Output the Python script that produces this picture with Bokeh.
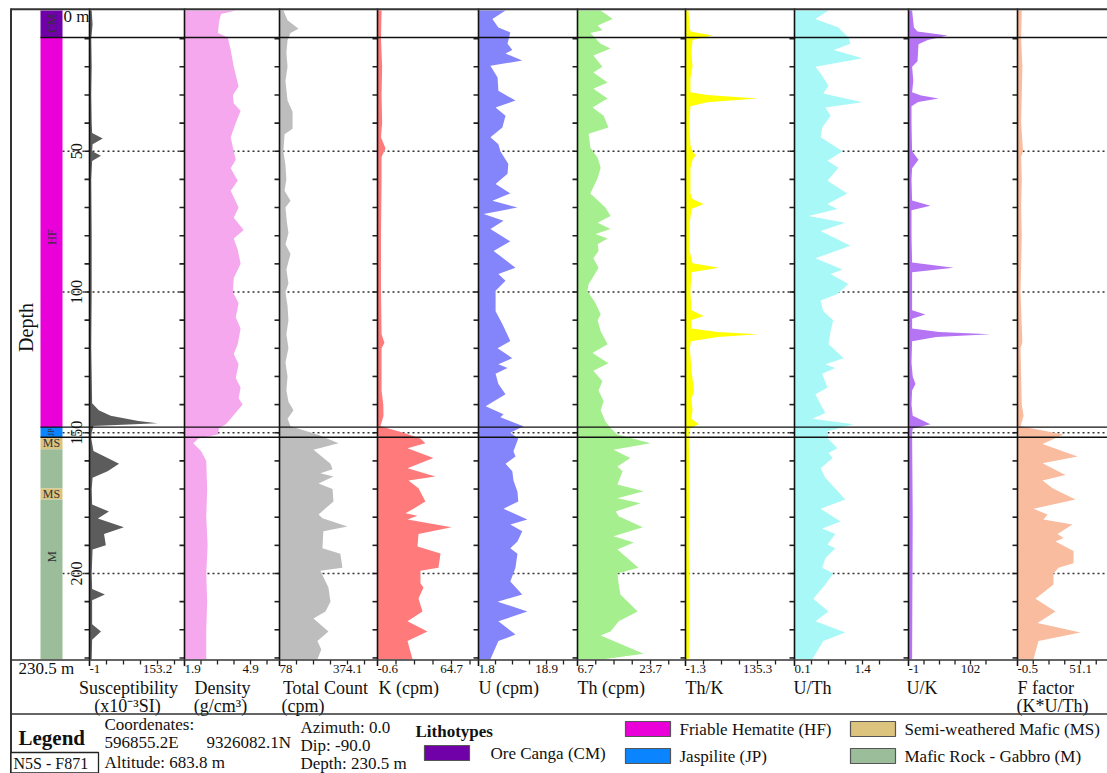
import math
from bokeh.plotting import figure
from bokeh.models import Range1d
from bokeh.embed import file_html
from bokeh.resources import INLINE
from bokeh.core.properties import value

# ---------------- data ----------------
DEPTH_MAX = 230.5

lith_top = [0, 9.6, 148.0, 151.6, 155.9, 169.8, 173.7]
lith_base = [9.6, 148.0, 151.6, 155.9, 169.8, 173.7, 230.5]
lith_code = ["CM", "HF", "JP", "MS", "M", "MS", "M"]
lith_label_code = ["CM", "HF", "JP", "MS", "MS", "M"]
lith_label_depth = [4.6, 80.5, 149.8, 153.8, 171.8, 194.0]
lith_names = ["Ore Canga (CM)", "Friable Hematite (HF)", "Jaspilite (JP)",
              "Semi-weathered Mafic (MS)", "Mafic Rock - Gabbro (M)"]

susc_depth = [0, 5, 10, 20, 30, 40, 43.5, 45.5, 47.5, 50, 51.6, 53.5, 60, 80, 100, 120, 139.5, 142, 144, 145.8,
              146.6, 147.6, 150, 152, 156.5, 159, 161, 163.7, 166, 170, 175.5, 178, 180.5, 183.6, 186, 190, 191.5,
              200, 205.5, 207.5, 209.5, 218, 220.6, 223.5, 230.5]
susc = [4, 6, 3, 4, 3, 4, 5, 29, 6, 5, 25, 5, 3, 4, 4, 3, 5, 20, 47, 110,
        153.2, 8, 4, 3, 8, 40, 66, 40, 6, 4, 5, 43, 18, 77, 32, 36, 6,
        4, 5, 34, 5, 5, 25, 5, 4]

dens_depth = [0, 1.2, 4, 8, 9.6, 14, 20, 27, 30, 33, 35.6, 40, 45, 48.7, 53, 56, 60.5, 64, 70, 73.6,
              78, 81, 85, 90, 95, 100, 104, 109, 113, 118.6, 122, 125.7, 130.5, 134, 137.7, 140, 142, 145, 147,
              148.3, 150.6, 152, 153.7, 156.6, 160, 170, 180, 190, 200, 210, 220, 230.5]
dens = [4.23, 3.56, 3.47, 3.42, 3.87, 4.0, 4.14, 4.36, 4.1, 4.14, 4.45, 4.23, 4.0, 4.1, 4.23, 4.0, 4.32, 4.0,
        4.36, 4.14, 4.59, 4.14, 4.32, 4.45, 4.14, 4.1, 4.36, 4.23, 4.45, 4.32, 4.14, 4.36, 4.23, 4.45, 4.36,
        4.54, 4.32, 4.0, 3.78, 3.47, 3.42, 2.53, 2.3, 2.66, 2.89, 2.93, 2.89, 2.95, 2.89, 2.93, 2.89, 2.89]

tc_depth = [0, 3.5, 6.5, 8, 10.7, 15, 20, 25, 32, 36, 42, 44, 50, 55, 60, 64, 67.6, 70, 75, 79, 83, 86.5, 92,
            97, 100, 105, 110, 115, 120, 125, 130, 135, 139, 142, 145, 147.7, 150.6, 153.7, 156, 161, 163,
            164.4, 165.5, 168, 170, 174.4, 179, 180.4, 183.3, 185, 191, 193, 198, 199, 205, 210, 213.5, 216,
            220.6, 224, 227, 230.5]
tc = [95, 113, 161, 126, 113, 108, 113, 104, 113, 135, 135, 100, 95, 104, 108, 100, 126, 104, 110, 117, 104,
      126, 108, 117, 104, 113, 117, 108, 117, 104, 113, 108, 117, 139, 113, 126, 243, 335, 226, 300, 309, 256,
      313, 248, 309, 313, 248, 265, 374.1, 269, 265, 343, 352, 256, 291, 300, 278, 226, 291, 243, 260, 243]

k_depth = [0, 10, 20, 30, 40, 45, 49, 52, 60, 80, 100, 115, 118, 120, 135, 140, 144, 147.7, 150, 152, 153.7,
           155.5, 159, 162.6, 165.5, 167, 169.7, 174.4, 177, 178.6, 179.5, 180.8, 183.6, 186, 190.4, 192.9, 198,
           199, 203.5, 205, 208.9, 213.5, 217, 220.6, 224, 230.5]
k_cpm = [3, 2.5, 3.5, 3, 3.5, 2.5, 6.5, 3, 3, 2.5, 2.5, 3, 5.5, 3, 3, 4.5, 4.7, 2, 22.3, 37.3, 41.7, 25.9,
         48.8, 25.9, 50.6, 26.7, 35.6, 41.7, 31.2, 24.1, 34.7, 25.9, 64.7, 35.6, 34.7, 55, 53.2, 37.3, 37.3, 40,
         35.6, 39.1, 25.9, 43.5, 25.9, 30.3]

u_depth = [0, 3, 6, 7.8, 11.8, 14, 15.3, 17.8, 19.6, 23.8, 28.5, 32, 34.5, 37.4, 41.6, 45, 47.5, 50, 54.5, 58,
           61.6, 65, 67.6, 70, 72.3, 74.7, 77.6, 82, 85.4, 91.4, 93.6, 96, 99.6, 106.8, 111.4, 117.4, 120, 123.5,
           125.7, 127, 129, 132.7, 136.3, 140.6, 143.4, 144.5, 147.7, 150, 152, 156.6, 158.4, 161, 163.7, 167,
           171, 174.4, 177, 180.8, 182.6, 185, 188.6, 191, 193, 198, 202.8, 207.5, 210, 213.5, 217, 221.7, 224,
           230.5]
u_cpm = [8.6, 5.3, 6.8, 9.8, 9.1, 10.3, 8.6, 12.8, 4.8, 6.6, 6.8, 11.1, 6.1, 8.6, 7.8, 4.8, 6.8, 7.3, 9.3, 9.1,
         6.1, 9.8, 5.3, 11.6, 3.1, 8.1, 4.8, 9.8, 5.6, 11.1, 6.8, 8.6, 6.1, 6.1, 7.8, 9.8, 6.6, 10.3, 6.8, 9.1,
         6.1, 6.8, 8.6, 3.6, 8.1, 7.3, 13.1, 9.8, 11.8, 10.6, 11.1, 8.6, 10.3, 10.6, 11.6, 11.8, 8.1, 14.1, 9.8,
         12.8, 11.6, 9.8, 11.6, 11.1, 9.8, 12.8, 6.6, 14.1, 6.8, 11.1, 6.8, 4.8]

th_depth = [0, 3, 5.3, 7, 8, 11.8, 13.5, 16, 20, 22, 25.6, 27.8, 31.3, 34.5, 37.4, 41.6, 43.8, 48.7, 52.3, 55.9,
            59.5, 65, 70, 73, 75.4, 77.6, 79.4, 81, 83, 85.4, 88, 91.4, 95, 97.2, 99.6, 104, 107.9, 110, 113.9,
            118.6, 121.7, 125.3, 128, 131.7, 135, 138.8, 142, 146, 148.3, 150.6, 153.7, 156, 159, 162, 163.7,
            168.4, 170.8, 173.3, 175, 178, 179.7, 183.6, 186.8, 189, 191.5, 198, 200, 204, 207.5, 213.5, 217,
            220.6, 222, 228.5, 230.5]
th_cpm = [12.1, 14.9, 11.4, 12.5, 9.7, 12.1, 14.4, 10.4, 12.5, 10.4, 13.7, 10.4, 13.7, 10.2, 12.8, 13.9, 9.3,
          9.7, 11.4, 12.1, 11.4, 9.7, 13.2, 14.4, 11.4, 14.4, 10.9, 13.7, 11.4, 11.6, 10.4, 11.6, 10.2, 9.3, 9.0,
          10.9, 12.1, 11.4, 12.1, 13.7, 10.2, 13.9, 10.4, 12.5, 11.6, 12.8, 12.1, 13.2, 14.4, 16.0, 23.7, 15.1,
          19.0, 16.0, 17.2, 16.0, 22.1, 16.0, 21.4, 15.6, 16.3, 21.9, 15.1, 19.8, 16.0, 20.9, 16.0, 16.3, 16.7,
          20.7, 16.3, 14.4, 12.1, 22.1, 12.8]

thk_depth = [0, 5, 7.5, 8.9, 10.5, 15, 20, 24, 29, 30, 31.3, 32.6, 34, 40, 48, 50, 51.5, 53, 56, 65, 67, 68.7,
             70.5, 75, 85, 89.8, 91.4, 93, 100, 106.5, 108.5, 110, 113, 114.2, 115, 116, 117.5, 120, 128, 135,
             138, 142, 145, 147, 148.5, 150, 170, 190, 210, 230.5]
thk = [4.4, 6, 8.2, 50, 12, 10, 12, 8, 8, 40, 135.3, 40, 8, 6, 8, 12, 18, 12, 8, 8, 12, 33, 10, 7, 6, 12, 62,
       10, 8, 10, 33, 9, 10, 60, 135.3, 60, 9, 7, 10, 15, 10, 12, 10, 24, 6, 5, 6, 5, 6, 5]

uth_depth = [0, 3, 6, 9.6, 11.8, 14, 17, 20, 22.4, 26.7, 29.5, 32.6, 34.5, 37.4, 41.6, 45, 50, 53.4, 55.9,
             60.5, 65, 68.7, 70.5, 73, 75.4, 78.3, 83.6, 88, 92, 93.6, 97.2, 100.7, 103, 106.8, 110, 113.9,
             118.5, 123.5, 125.7, 127, 129, 134, 136.3, 140, 143, 145, 147, 149.5, 152.3, 155.5, 157.2, 159,
             162.6, 166, 173.7, 177, 181.5, 184, 186, 189.7, 191, 194.6, 198, 200, 203.9, 209, 213.5, 217, 221,
             224, 230.5]
uth = [0.75, 0.5, 0.94, 1.13, 1.17, 0.85, 1.4, 0.5, 0.6, 0.75, 0.65, 1.4, 0.69, 0.79, 0.63, 0.6, 1.02, 0.73,
       0.94, 0.73, 1.11, 0.73, 0.92, 0.37, 1.07, 0.6, 1.17, 0.5, 1.02, 0.79, 1.13, 0.92, 0.6, 0.65, 0.84, 0.79,
       0.75, 1.04, 0.69, 0.88, 0.63, 0.73, 0.5, 0.6, 0.69, 0.44, 1.23, 0.73, 0.75, 0.92, 0.75, 0.83, 0.6, 0.69,
       1.07, 0.6, 0.98, 0.63, 0.88, 0.73, 0.88, 0.69, 0.63, 0.84, 0.69, 0.46, 0.75, 0.5, 1.07, 0.65, 0.44]

uk_depth = [0, 6, 7.5, 8.9, 10.5, 12, 18, 20, 25, 29, 30.2, 31.3, 32.5, 34, 40, 50, 53, 56, 60, 67.5, 69.4, 71,
            80, 89.5, 91.4, 93, 106.5, 108, 109.5, 113, 114.2, 115, 116, 117.5, 125, 130, 132.7, 135, 140, 144,
            147, 148.5, 150, 180, 230.5]
uk = [5, 8, 14, 64, 31, 15.6, 14, 5, 7, 5, 20, 49, 15, 4, 4, 5, 15.6, 5, 4, 5, 35.5, 4, 4, 5, 74, 5, 5, 27, 5,
      5, 50, 135, 45, 5, 4, 6, 10.6, 5, 4, 6, 35.5, 6, 5, 6, 5]

f_depth = [0, 10, 20, 30, 40, 50, 52, 60, 70, 80, 100, 118, 120, 140, 144, 147.7, 150.6, 154, 158.4, 160.8, 165,
           167, 169.7, 173.7, 177, 179, 180.8, 182.6, 186, 187.4, 188.6, 192, 196.4, 198, 200, 203.9, 209,
           213.5, 217.6, 221, 224, 230.5]
f_factor = [3, 2.5, 3.5, 3, 2.5, 4, 2.5, 3, 2.5, 3, 2, 3.5, 2, 3, 4.5, 2, 37.2, 20, 48.6, 20, 38.8, 20, 28.2,
            47, 12.6, 24.1, 20.8, 44.5, 32.3, 37.2, 30.6, 45.4, 45.4, 33.1, 29, 29, 14.2, 30.6, 15.9, 51.1, 16.7,
            12.6]

track_min = [-1, 1.9, 78, -0.6, 1.8, 6.7, -1.3, 0.1, -1, -0.5]
track_max = [153.2, 4.9, 374.1, 64.7, 18.9, 23.7, 135.3, 1.4, 102, 51.1]
min_labels = ["-1", "1.9", "78", "-0.6", "1.8", "6.7", "-1.3", "0.1", "-1", "-0.5"]
max_labels = ["153.2", "4.9", "374.1", "64.7", "18.9", "23.7", "135.3", "1.4", "102", "51.1"]
title_1 = ["Susceptibility", "Density", "Total Count", "K (cpm)", "U (cpm)", "Th (cpm)", "Th/K", "U/Th", "U/K",
           "F factor"]
title_2 = ["(x10\u207b\u00b3SI)", "(g/cm\u00b3)", "(cpm)", "", "", "", "", "", "", "(K*U/Th)"]
depth_labels = [50, 100, 150, 200]

# ---------------- styling / layout ----------------
track_colors = ["#5c5c5c", "#f5a8ee", "#bdbdbd", "#ff7b7b", "#8585fb", "#a6ef8f", "#ffff00", "#a8f8f8",
                "#b474f4", "#f9bc9f"]
lith_colors = {"CM": "#7000a8", "HF": "#ea00d8", "JP": "#0a84ff", "MS": "#dcc47e", "M": "#9cbd99"}
px0 = [89, 184, 279, 377, 478, 577, 685, 794, 908, 1017]
px1 = [157, 250, 347, 451, 546, 650, 757, 862, 970, 1080]
t1_x = [128, 222, 325, 378, 478, 577, 685, 793, 906, 1017]
t1_align = ["center", "center", "center", "left", "left", "left", "left", "left", "left", "left"]
t2_x = [127, 220, 281, 0, 0, 0, 0, 0, 0, 1016]
t2_align = ["center", "center", "left", "left", "left", "left", "left", "left", "left", "left"]

series = [(susc_depth, susc), (dens_depth, dens), (tc_depth, tc), (k_depth, k_cpm), (u_depth, u_cpm),
          (th_depth, th_cpm), (thk_depth, thk), (uth_depth, uth), (uk_depth, uk), (f_depth, f_factor)]

FONT = value("Liberation Serif")
XL, XR, YT, YB = 0, 1107, 0, 773
Y0, PXM = 10.0, 2.815
AXIS_Y = 659.5

p = figure(width=XR - XL, height=YB - YT, x_range=Range1d(XL, XR), y_range=Range1d(YB, YT),
           output_backend="svg", toolbar_location=None, min_border=0,
           x_axis_location=None, y_axis_location=None, outline_line_color=None,
           background_fill_color="white", border_fill_color="white")
p.grid.grid_line_color = None
p.extra_y_ranges = {"depth": Range1d(start=(YB - Y0) / PXM, end=(YT - Y0) / PXM)}


def txt(x, y, s, size="16px", align="left", baseline="middle", angle=0.0, bold=False, color="#111111",
        yr="default", xr="default"):
    p.text(x=[x], y=[y], text=[s], text_font=FONT, text_font_size=size, text_align=align,
           text_baseline=baseline, angle=angle, text_color=color,
           text_font_style="bold" if bold else "normal", y_range_name=yr, x_range_name=xr)


# dotted depth grid (behind the curves)
p.segment(x0=62, x1=XR, y0=depth_labels, y1=depth_labels, y_range_name="depth",
          line_color="#333333", line_width=1.3, line_dash="2 3")

# lithology column
p.quad(left=40, right=62, top=lith_top, bottom=lith_base, y_range_name="depth",
       fill_color=[lith_colors[c] for c in lith_code], line_color=None)
for c, d in zip(lith_label_code, lith_label_depth):
    if c == "MS":
        txt(51, d, c, size="12px", align="center", yr="depth", color="#333333")
    elif c == "JP":
        txt(51, d, c, size="8px", align="center", angle=math.pi / 2, yr="depth", color="#333333")
    else:
        txt(51, d, c, size="13px" if c == "M" else "12px", align="center", angle=math.pi / 2, yr="depth",
            color="#333333")

# tracks
ticks10 = list(range(10, 231, 10))
for i, (dep, vals) in enumerate(series):
    name = "t%d" % i
    vmin, vmax = track_min[i], track_max[i]
    s = (vmax - vmin) / (px1[i] - px0[i])
    p.extra_x_ranges[name] = Range1d(start=vmin - (px0[i] - XL) * s, end=vmin + (XR - px0[i]) * s)
    p.harea(x1=vmin, x2=vals, y=dep, x_range_name=name, y_range_name="depth",
            fill_color=track_colors[i], fill_alpha=1.0)
    # depth ticks to the left of the track axis
    p.segment(x0=px0[i] - 5, x1=px0[i], y0=ticks10, y1=ticks10, y_range_name="depth",
              line_color="#222222", line_width=1.6)
    # bottom scale ticks
    nxt = px0[i + 1] if i + 1 < len(px0) else XR
    tv = [vmin + k * (vmax - vmin) / 4 for k in range(1, 6) if px0[i] + k * (px1[i] - px0[i]) / 4 < nxt - 4]
    p.segment(x0=tv, x1=tv, y0=AXIS_Y, y1=AXIS_Y + 4.5, x_range_name=name, line_color="#222222",
              line_width=1.3)
    # scale labels
    txt(vmin, 668, min_labels[i], size="13px", align="left", xr=name)
    txt(vmax, 668, max_labels[i], size="13px", align="center", xr=name)
    # titles
    txt(t1_x[i], 687, title_1[i], size="18px", align=t1_align[i])
    if title_2[i]:
        txt(t2_x[i], 705, title_2[i], size="18px", align=t2_align[i])

# track axis lines
p.segment(x0=px0, x1=px0, y0=8, y1=AXIS_Y + 6, line_color="#111111", line_width=1.6)

# lithological boundaries
bounds = [9.6, 148.0, 151.6]
p.segment(x0=40, x1=XR, y0=bounds, y1=bounds, y_range_name="depth", line_color="#111111", line_width=1.3)

# frame
p.segment(x0=[10, 10.5, 10, 10], x1=[XR, 10.5, XR, XR], y0=[8.8, 8, AXIS_Y, 713.5],
          y1=[8.8, YB, AXIS_Y, 713.5], line_color="#333333", line_width=[2, 2, 1.6, 1.6])

# depth annotations
txt(25, 327, "Depth", size="20px", align="center", angle=math.pi / 2)
txt(63, 16, "0 m", size="17px", align="left")
txt(18, 668, "230.5 m", size="17px", align="left")
for d in depth_labels:
    txt(76, d, str(d), size="16px", align="center", angle=math.pi / 2, yr="depth")

# legend block
txt(18, 737, "Legend", size="21px", bold=True)
p.quad(left=10.5, right=98, top=752, bottom=772.5, fill_color="white", line_color="#222222", line_width=1.3)
txt(13, 763, "N5S - F871", size="16px")
txt(104, 724, "Coordenates:", size="17px")
txt(104, 742, "596855.2E", size="17px")
txt(206, 742, "9326082.1N", size="17px")
txt(104, 762, "Altitude: 683.8 m", size="17px")
txt(300, 727, "Azimuth: 0.0", size="17px")
txt(300, 745, "Dip: -90.0", size="17px")
txt(300, 763, "Depth: 230.5 m", size="17px")
txt(415, 731, "Lithotypes", size="17px", bold=True)

leg_codes = ["CM", "HF", "JP", "MS", "M"]
leg_left = [424, 625, 625, 850, 850]
leg_top = [745, 721, 748, 721, 748]
for c, nm, lx, ty in zip(leg_codes, lith_names, leg_left, leg_top):
    p.quad(left=lx, right=lx + 45, top=ty, bottom=ty + 15, fill_color=lith_colors[c], line_color="#555555",
           line_width=1.2)
    txt(lx + 54 + (12 if c == "CM" else 0), ty + 8, nm, size="17px")

open("out.html", "w").write(file_html(p, INLINE))
